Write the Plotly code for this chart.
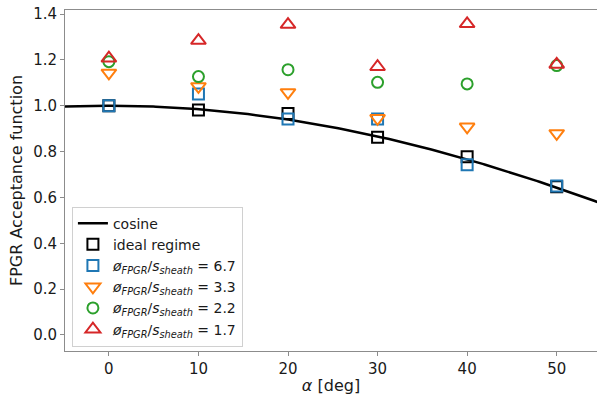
import numpy as np
import plotly.graph_objects as go

alpha = [0, 10, 20, 30, 40, 50]
ideal = [1.0, 0.981, 0.966, 0.862, 0.777, 0.646]
r67 = [1.0, 1.051, 0.942, 0.942, 0.742, 0.65]
r33 = [1.143, 1.084, 1.058, 0.945, 0.908, 0.879]
r22 = [1.192, 1.127, 1.157, 1.102, 1.095, 1.175]
r17 = [1.207, 1.284, 1.354, 1.17, 1.357, 1.18]

xc = np.linspace(-5, 55, 200)
yc = np.cos(np.deg2rad(xc))

def lab(v):
    return "<i>ø</i><sub><i>FPGR</i></sub>/<i>s</i><sub><i>sheath</i></sub> = " + v

fig = go.Figure()
fig.add_trace(go.Scatter(x=xc, y=yc, mode="lines", name="cosine",
                         line=dict(color="black", width=2.5)))
fig.add_trace(go.Scatter(x=alpha, y=ideal, mode="markers", name="ideal regime",
                         marker=dict(symbol="square-open", size=11, color="black", line=dict(width=2))))
fig.add_trace(go.Scatter(x=alpha, y=r67, mode="markers", name=lab("6.7"),
                         marker=dict(symbol="square-open", size=11, color="#1f77b4", line=dict(width=2))))
fig.add_trace(go.Scatter(x=alpha, y=r33, mode="markers", name=lab("3.3"),
                         marker=dict(symbol="triangle-down-open", size=13, color="#ff7f0e", line=dict(width=2))))
fig.add_trace(go.Scatter(x=alpha, y=r22, mode="markers", name=lab("2.2"),
                         marker=dict(symbol="circle-open", size=11, color="#2ca02c", line=dict(width=2))))
fig.add_trace(go.Scatter(x=alpha, y=r17, mode="markers", name=lab("1.7"),
                         marker=dict(symbol="triangle-up-open", size=13, color="#d62728", line=dict(width=2))))

fig.update_layout(
    width=597, height=399,
    margin=dict(l=65, r=0, t=10, b=48),
    paper_bgcolor="white", plot_bgcolor="white",
    font=dict(family="DejaVu Sans", size=15, color="#1a1a1a"),
    showlegend=True,
    legend=dict(x=0.013, y=0.013, xanchor="left", yanchor="bottom",
                bgcolor="rgba(255,255,255,0.8)", bordercolor="#d0d0d0", borderwidth=1,
                font=dict(size=14, color="#1a1a1a"), tracegroupgap=0),
)
fig.update_xaxes(range=[-4.9, 54.5], tickvals=[0, 10, 20, 30, 40, 50],
                 showgrid=False, zeroline=False, showline=True, linecolor="#8c8c8c", linewidth=1,
                 mirror=True, ticks="outside", ticklen=4, tickcolor="#8c8c8c",
                 title=dict(text="<i>α</i> [deg]", font=dict(size=16), standoff=2))
fig.update_yaxes(range=[-0.07, 1.4175], tickvals=[0, 0.2, 0.4, 0.6, 0.8, 1.0, 1.2, 1.4],
                 tickformat=".1f",
                 showgrid=False, zeroline=False, showline=True, linecolor="#8c8c8c", linewidth=1,
                 mirror=True, ticks="outside", ticklen=4, tickcolor="#8c8c8c",
                 title=dict(text="FPGR Acceptance function", font=dict(size=16), standoff=6))

fig.write_html("out.html")
